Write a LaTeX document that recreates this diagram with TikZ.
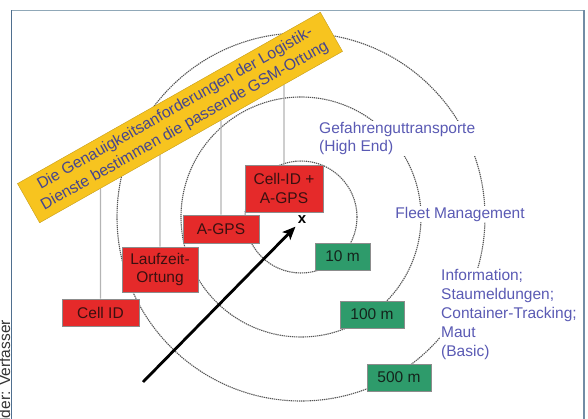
\documentclass[tikz,border=0pt]{standalone}
\usepackage{fontspec}
\setmainfont{Liberation Sans}
\usetikzlibrary{arrows.meta}
\pgfdeclarelayer{background}
\pgfsetlayers{background,main}
\definecolor{bannerfill}{HTML}{F7C41F}
\definecolor{bannertext}{HTML}{45458F}
\definecolor{labeltext}{HTML}{5A5AB4}
\definecolor{redfill}{HTML}{E52A2A}
\definecolor{redtext}{HTML}{3A1010}
\definecolor{greenfill}{HTML}{2E9B6B}
\definecolor{greentext}{HTML}{14241C}
\definecolor{vlinecol}{HTML}{B4B4B4}
\definecolor{circcol}{HTML}{555555}
\definecolor{frameside}{HTML}{4F6F8F}
\definecolor{frametop}{HTML}{90A8B8}
\tikzset{
  txt/.style={font=\fontsize{15.5}{18.5}\selectfont},
  redbox/.style={txt, draw=black!45, line width=0.6pt, fill=redfill, text=redtext, align=center, inner sep=0pt},
  greenbox/.style={txt, draw=black!45, line width=0.6pt, fill=greenfill, text=greentext, inner sep=0pt, minimum height=27pt},
  label/.style={txt, text=labeltext, fill=white, align=left, inner sep=1pt},
  ring/.style={draw=circcol, line width=1.1pt, dash pattern=on 1.3pt off 0.8pt},
  vline/.style={draw=vlinecol, line width=1.3pt},
  banner/.style={font=\fontsize{15.8}{19.5}\selectfont, fill=bannerfill, draw=bannerfill!80!black, line width=0.4pt, text=bannertext, align=center, inner sep=0pt, minimum width=348pt, minimum height=45pt, rotate=29.5},
  bigarrow/.style={line width=2.8pt, -{Stealth[length=13pt,width=11pt,inset=3pt]}}
}
\begin{document}
\begin{tikzpicture}[x=1pt,y=-1pt]
\useasboundingbox (0,0) rectangle (588,419);
\coordinate (c) at (301,217);

% banner
\node[banner] (banner) at (180,117.5) {Die Genauigkeitsanforderungen der Logistik-\\Dienste bestimmen die passende GSM-Ortung};

% red boxes
\node[redbox, minimum width=77pt, minimum height=27pt] (cellid) at (100.5,312.5) {Cell ID};
\node[redbox, minimum width=76pt, minimum height=45pt] (laufzeit) at (160,269.5) {Laufzeit-\\Ortung};
\node[redbox, minimum width=76pt, minimum height=28pt] (agps) at (221,229) {A-GPS};
\node[redbox, minimum width=78pt, minimum height=47pt] (cellagps) at (284,188.5) {Cell-ID +\\A-GPS};

% green boxes
\node[greenbox, minimum width=55pt] (g10) at (342.5,256.5) {10 m};
\node[greenbox, minimum width=64pt] (g100) at (372,314.5) {100 m};
\node[greenbox, minimum width=64pt] (g500) at (399,377.5) {500 m};

% labels
\node[label, anchor=north west] (high) at (318,121) {Gefahrenguttransporte\\(High End)};
\node[label] (fleet) at (460,214) {Fleet Management};
\node[label, anchor=north west, font=\fontsize{15.5}{19}\selectfont] (basic) at (440,268) {Information;\\Staumeldungen;\\Container-Tracking;\\Maut\\(Basic)};

% target mark
\node[font=\fontsize{15}{15}\selectfont\bfseries, inner sep=2.5pt] (xmark) at (302,220) {x};

% credit
\node[rotate=90, anchor=base east, font=\fontsize{15.5}{15.5}\selectfont, text=black!80, inner sep=0pt] (credit) at (10,320) {Bilder: Verfasser};

\begin{pgfonlayer}{background}
  \draw[frametop, line width=1.2pt] (11.5,10.5) -- (584,10.5);
  \draw[frameside, line width=1.2pt] (11.5,10.5) -- (11.5,440);
  \draw[frameside!80!white, line width=1.2pt] (584,10.5) -- (584,440);
  \draw[ring] (c) circle[radius=56pt];
  \draw[ring] (c) circle[radius=120pt];
  \draw[ring] (c) circle[radius=184pt];
  \draw[vline] (cellid.north) -- (intersection of cellid.north--cellid.center and banner.south west--banner.south east);
  \draw[vline] (laufzeit.north) -- (intersection of laufzeit.north--laufzeit.center and banner.south west--banner.south east);
  \draw[vline] (agps.north) -- (intersection of agps.north--agps.center and banner.south west--banner.south east);
  \draw[vline] (cellagps.north) -- (intersection of cellagps.north--cellagps.center and banner.south west--banner.south east);
\end{pgfonlayer}

% arrow
\coordinate (astart) at (143,382);
\draw[bigarrow] (astart) -- (xmark);
\end{tikzpicture}
\end{document}
